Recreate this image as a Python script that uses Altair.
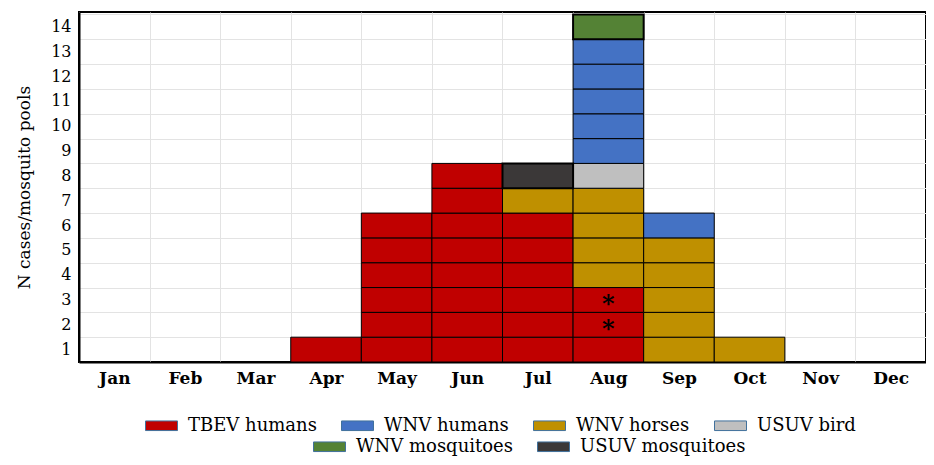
import altair as alt
import pandas as pd

months = ["Jan", "Feb", "Mar", "Apr", "May", "Jun", "Jul", "Aug", "Sep", "Oct", "Nov", "Dec"]
legend_row1 = ["TBEV humans", "WNV humans", "WNV horses", "USUV bird"]
legend_row2 = ["WNV mosquitoes", "USUV mosquitoes"]
colors_row1 = ["#C00000", "#4472C4", "#BF9000", "#BFBFBF"]
colors_row2 = ["#548235", "#3B3838"]
stack_order = ["TBEV humans", "WNV horses", "USUV bird", "USUV mosquitoes", "WNV humans", "WNV mosquitoes"]

tbev_humans     = [0, 0, 0, 1, 6, 8, 6, 3, 0, 0, 0, 0]
wnv_humans      = [0, 0, 0, 0, 0, 0, 0, 5, 1, 0, 0, 0]
wnv_horses      = [0, 0, 0, 0, 0, 0, 1, 4, 5, 1, 0, 0]
usuv_bird       = [0, 0, 0, 0, 0, 0, 0, 1, 0, 0, 0, 0]
wnv_mosquitoes  = [0, 0, 0, 0, 0, 0, 0, 1, 0, 0, 0, 0]
usuv_mosquitoes = [0, 0, 0, 0, 0, 0, 1, 0, 0, 0, 0, 0]

asterisk_month = "Aug"
asterisk_blocks = [2, 3]
y_ticks = list(range(1, 15))

counts = {
    "TBEV humans": tbev_humans,
    "WNV humans": wnv_humans,
    "WNV horses": wnv_horses,
    "USUV bird": usuv_bird,
    "WNV mosquitoes": wnv_mosquitoes,
    "USUV mosquitoes": usuv_mosquitoes,
}

rows = []
for mi, m in enumerate(months):
    level = 0
    for cat in stack_order:
        for _ in range(counts[cat][mi]):
            rows.append({"month": m, "category": cat, "y0": level, "y1": level + 1})
            level += 1
blocks = pd.DataFrame(rows)
ast = pd.DataFrame({"month": [asterisk_month] * len(asterisk_blocks), "block": asterisk_blocks})

FONT = "DejaVu Serif"
W, H = 847, 350

x_scale = alt.Scale(domain=months, paddingInner=0, paddingOuter=0)
x_axis = alt.Axis(
    title=None, labelAngle=0, labelFont=FONT, labelFontWeight="bold", labelFontSize=17,
    labelColor="black", labelPadding=8, ticks=False, tickBand="extent", grid=True,
    gridColor="#e3e3e3", domainColor="black", domainWidth=2,
)
y_scale = alt.Scale(domain=[0, 14.1], nice=False)
y_axis = alt.Axis(
    title="N cases/mosquito pools", values=y_ticks, labelOffset=12, ticks=False,
    labelOverlap=False, labelFlush=False,
    labelFont=FONT, labelFontSize=16, labelColor="black", labelPadding=8,
    titleFont=FONT, titleFontSize=17, titleFontWeight="normal", titleColor="black",
    titlePadding=17, gridColor="#e3e3e3", domainColor="black", domainWidth=2,
)

x_enc = alt.X("month:N", sort=months, scale=x_scale, axis=x_axis)
y_enc = alt.Y("y0:Q", scale=y_scale, axis=y_axis)

SYM = "M-1,-0.3H1V0.3H-1Z"

def leg(x, y):
    return alt.Legend(
        title=None, orient="none", legendX=x, legendY=y, direction="horizontal",
        symbolType=SYM, symbolSize=1024, symbolStrokeColor="#41719C", symbolStrokeWidth=1,
        labelFont=FONT, labelFontSize=18, labelColor="black", labelOffset=10, labelLimit=400,
        columnPadding=22, padding=0,
    )

bars1 = alt.Chart(blocks).transform_filter(
    alt.FieldOneOfPredicate(field="category", oneOf=legend_row1)
).mark_bar(stroke="black", strokeWidth=1).encode(
    x=x_enc, y=y_enc, y2="y1:Q",
    fill=alt.Fill("category:N", scale=alt.Scale(domain=legend_row1, range=colors_row1),
                  legend=leg(66, 397)),
)
bars2 = alt.Chart(blocks).transform_filter(
    alt.FieldOneOfPredicate(field="category", oneOf=legend_row2)
).mark_bar(stroke="black", strokeWidth=2).encode(
    x=x_enc, y=y_enc, y2="y1:Q",
    fill=alt.Fill("category:N", scale=alt.Scale(domain=legend_row2, range=colors_row2),
                  legend=leg(234, 418)),
)
stars = alt.Chart(ast).transform_calculate(
    yc="datum.block - 0.5"
).mark_text(text="*", fontSize=24, fontWeight="bold", color="black", font=FONT, dy=5).encode(
    x=alt.X("month:N", sort=months, scale=x_scale, axis=x_axis),
    y=alt.Y("yc:Q", scale=y_scale, axis=y_axis),
)

chart = alt.layer(bars1, bars2, stars).resolve_scale(fill="independent").properties(
    width=W, height=H,
    autosize=alt.AutoSizeParams(type="none"),
    padding={"left": 71, "top": 4, "right": 0, "bottom": 95},
).configure_view(stroke="black", strokeWidth=2)

chart.save("out.html", embed_options={"renderer": "svg", "actions": False})
